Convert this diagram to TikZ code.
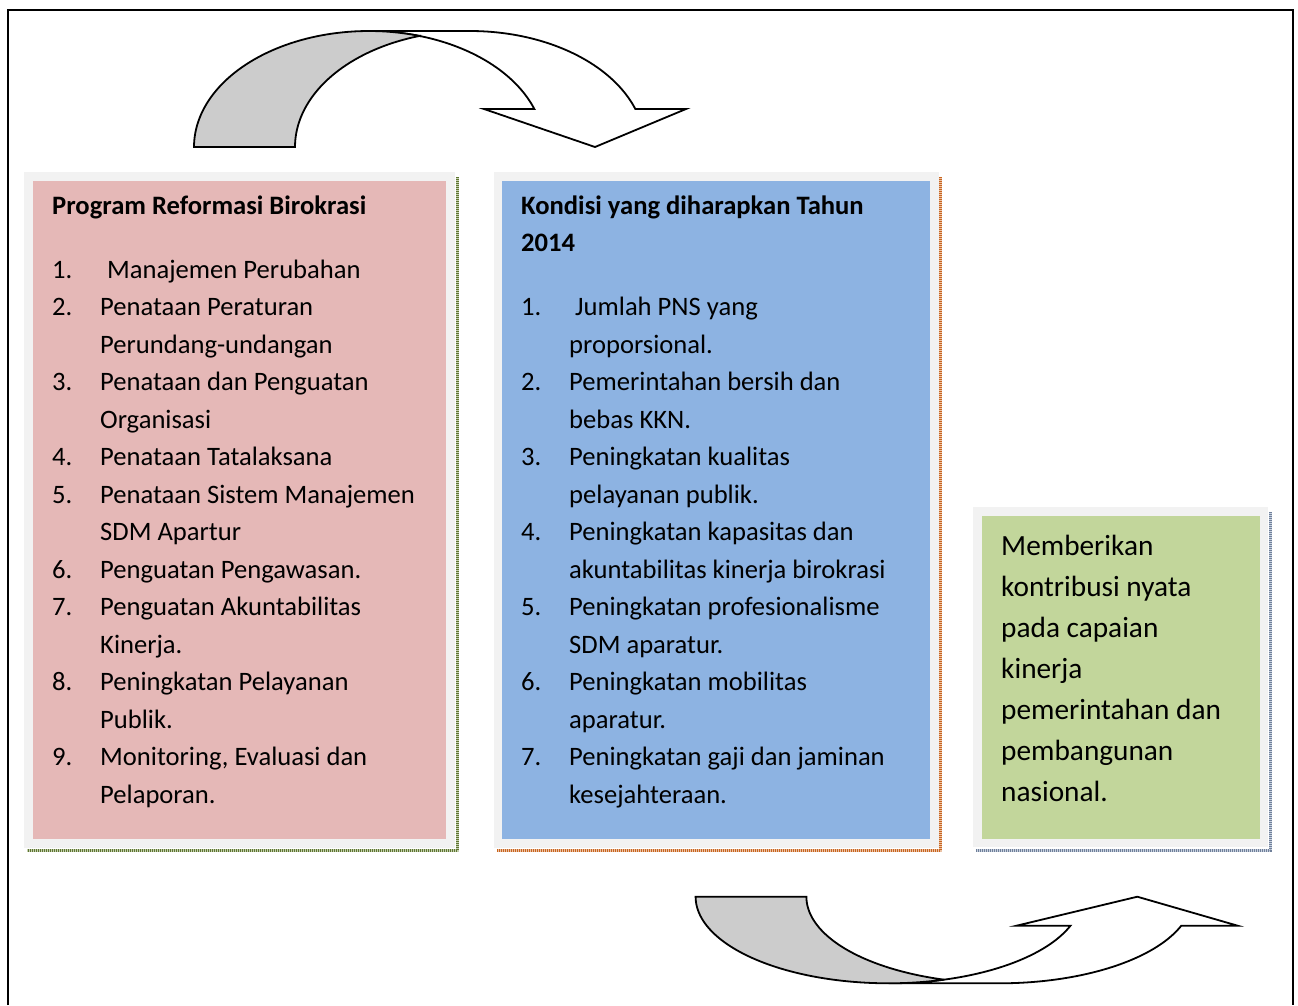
\documentclass[tikz,border=0pt]{standalone}
\usepackage{fontspec}
\setmainfont{Carlito}

\definecolor{pinkfill}{HTML}{E5B8B7}
\definecolor{bluefill}{HTML}{8DB3E2}
\definecolor{greenfill}{HTML}{C2D69B}
\definecolor{panelgray}{HTML}{F2F2F2}
\definecolor{arrowgray}{HTML}{CCCCCC}
\definecolor{olivedark}{HTML}{5E7530}
\definecolor{olivelight}{HTML}{C4CFB0}
\definecolor{orangedark}{HTML}{C8641E}
\definecolor{orangelight}{HTML}{EBC3A6}
\definecolor{steeldark}{HTML}{6F7F99}
\definecolor{steellight}{HTML}{C9D2E0}

\begin{document}
\begin{tikzpicture}[x=1pt, y=-1pt,
  listtext/.style={anchor=base west, inner sep=0pt, text=black,
                   font=\fontsize{26.6}{32}\selectfont},
  headtext/.style={anchor=base west, inner sep=0pt, text=black,
                   font=\bfseries\fontsize{26.6}{32}\selectfont},
  bigtext/.style={anchor=base west, inner sep=0pt, text=black,
                  font=\fontsize{29.3}{35}\selectfont},
  arrowline/.style={draw=black, line width=1.8pt, line join=miter},
  shadowbase/.style={line width=3.5pt},
  shadowdots/.style={line width=3.5pt, dash pattern=on 1pt off 1pt},
]
\useasboundingbox (0,0) rectangle (1298,1005);

% outer frame (runs off the lower edge)
\draw[line width=2pt] (8,1005) -- (8,10) -- (1293,10) -- (1293,1005);

% ---------- panels ----------
% left panel
\fill[panelgray] (24,172) rectangle (455,848);
\fill[pinkfill] (33,181) rectangle (446,839);
\draw[shadowbase, olivelight] (457.5,177) -- (457.5,850.5) -- (27,850.5);
\draw[shadowdots, olivedark] (457.5,177) -- (457.5,850.5) -- (27,850.5);

% middle panel
\fill[panelgray] (494,172) rectangle (939,848);
\fill[bluefill] (502,181) rectangle (930,839);
\draw[shadowbase, orangelight] (940.5,177) -- (940.5,850.5) -- (497,850.5);
\draw[shadowdots, orangedark] (940.5,177) -- (940.5,850.5) -- (497,850.5);

% right panel
\fill[panelgray] (973,507) rectangle (1268,847);
\fill[greenfill] (982,516) rectangle (1260,839);
\draw[shadowbase, steellight] (1270.5,512) -- (1270.5,850.5) -- (976,850.5);
\draw[shadowdots, steeldark] (1270.5,512) -- (1270.5,850.5) -- (976,850.5);

% ---------- left panel text ----------
\node[headtext] (ptitle) at (52,214) {Program Reformasi Birokrasi};
\foreach \k/\r in {1/1, 2/2, 3/4, 4/6, 5/7, 6/9, 7/10, 8/12, 9/14}
  \node[listtext] (pnum\k) at (52,{278+(\r-1)*37.5}) {\k.};
\foreach \r/\x/\t in {
   1/107/{Manajemen Perubahan},
   2/100/{Penataan Peraturan},
   3/100/{Perundang-undangan},
   4/100/{Penataan dan Penguatan},
   5/100/{Organisasi},
   6/100/{Penataan Tatalaksana},
   7/100/{Penataan Sistem Manajemen},
   8/100/{SDM Apartur},
   9/100/{Penguatan Pengawasan.},
  10/100/{Penguatan Akuntabilitas},
  11/100/{Kinerja.},
  12/100/{Peningkatan Pelayanan},
  13/100/{Publik.},
  14/100/{Monitoring, Evaluasi dan},
  15/100/{Pelaporan.}}
  \node[listtext] (pline\r) at (\x,{278+(\r-1)*37.5}) {\t};

% ---------- middle panel text ----------
\node[headtext] (btitle) at (521,214) {Kondisi yang diharapkan Tahun};
\node[headtext] (btitleb) at (521,251.5) {2014};
\foreach \k/\r in {1/2, 2/4, 3/6, 4/8, 5/10, 6/12, 7/14}
  \node[listtext] (bnum\k) at (521,{278+(\r-1)*37.5}) {\k.};
\foreach \r/\x/\t in {
   2/575/{Jumlah PNS yang},
   3/569/{proporsional.},
   4/569/{Pemerintahan bersih dan},
   5/569/{bebas KKN.},
   6/569/{Peningkatan kualitas},
   7/569/{pelayanan publik.},
   8/569/{Peningkatan kapasitas dan},
   9/569/{akuntabilitas kinerja birokrasi},
  10/569/{Peningkatan profesionalisme},
  11/569/{SDM aparatur.},
  12/569/{Peningkatan mobilitas},
  13/569/{aparatur.},
  14/569/{Peningkatan gaji dan jaminan},
  15/569/{kesejahteraan.}}
  \node[listtext] (bline\r) at (\x,{278+(\r-1)*37.5}) {\t};

% ---------- right panel text ----------
\foreach \r/\t in {
  1/{Memberikan},
  2/{kontribusi nyata},
  3/{pada capaian},
  4/{kinerja},
  5/{pemerintahan dan},
  6/{pembangunan},
  7/{nasional.}}
  \node[bigtext] (gline\r) at (1001,{555+(\r-1)*41.1}) {\t};

% ---------- curved arrow at the top (pointing down) ----------
\draw[arrowline, fill=white] (470,31)
  -- plot[domain=270:340.88, samples=50, variable=\t] ({470+175*cos(\t)},{147+116*sin(\t)})
  -- (686,109) -- (595,147) -- (484,109)
  -- plot[domain=340.88:270, samples=50, variable=\t] ({369+175*cos(\t)},{147+116*sin(\t)})
  -- cycle;
\draw[arrowline, fill=arrowgray] (194,147)
  -- plot[domain=180:286.94, samples=60, variable=\t] ({369+175*cos(\t)},{147+116*sin(\t)})
  -- plot[domain=253.4:180, samples=50, variable=\t] ({470+175*cos(\t)},{147+116*sin(\t)})
  -- cycle;

% ---------- curved arrow at the bottom (pointing up) ----------
\draw[arrowline, fill=white] (999.4,983.3)
  -- plot[domain=90:19.57, samples=50, variable=\t] ({999.4+193*cos(\t)},{896.7+86.6*sin(\t)})
  -- (1237.7,925.7) -- (1137.3,896.7) -- (1016.5,925.7)
  -- plot[domain=19.57:90, samples=50, variable=\t] ({888.6+193*cos(\t)},{896.7+86.6*sin(\t)})
  -- cycle;
\draw[arrowline, fill=arrowgray] (695.6,896.7)
  -- plot[domain=180:73.3, samples=60, variable=\t] ({888.6+193*cos(\t)},{896.7+86.6*sin(\t)})
  -- plot[domain=106.7:180, samples=50, variable=\t] ({999.4+193*cos(\t)},{896.7+86.6*sin(\t)})
  -- cycle;
\end{tikzpicture}
\end{document}
